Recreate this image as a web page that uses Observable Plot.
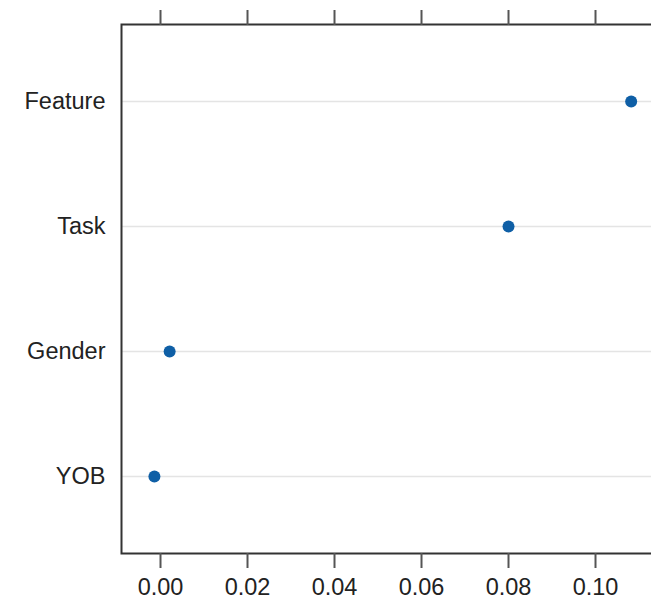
<!DOCTYPE html>
<html>
<head>
<meta charset="utf-8">
<script src="https://cdn.jsdelivr.net/npm/d3@7"></script>
<script src="https://cdn.jsdelivr.net/npm/@observablehq/plot@0.6"></script>
<style>
  html, body { margin: 0; padding: 0; background: white; overflow: hidden; }
</style>
</head>
<body>
<div id="chart"></div>
<script>
// Variable importance by feature
const features = ["Feature", "Task", "Gender", "YOB"];
const importance = [0.1082, 0.0800, 0.0021, -0.0014];

const xTicks = [0, 0.02, 0.04, 0.06, 0.08, 0.10];
const xTickLabels = ["0.00", "0.02", "0.04", "0.06", "0.08", "0.10"];

const rows = features.map((f, i) => ({feature: f, value: importance[i]}));

const chart = Plot.plot({
  width: 651,
  height: 600,
  marginLeft: 121,
  marginRight: -10,
  marginTop: 24,
  marginBottom: 47,
  style: {
    fontFamily: "'Liberation Sans', Arial, Helvetica, sans-serif",
    fontSize: "23.5px",
    color: "#222",
    overflow: "hidden",
    background: "white"
  },
  x: {domain: [-0.008966, 0.11517]},
  y: {domain: features, padding: 0.605},
  marks: [
    Plot.ruleY(features, {stroke: "#e4e4e4", strokeWidth: 1.5}),
    Plot.frame({stroke: "#333", strokeWidth: 2}),
    Plot.axisX({
      anchor: "bottom",
      ticks: xTicks,
      tickFormat: d => xTickLabels[xTicks.indexOf(d)],
      tickSize: 15,
      tickPadding: 10,
      stroke: "#555",
      strokeWidth: 2,
      label: null
    }),
    Plot.axisX({
      anchor: "top",
      ticks: xTicks,
      tickFormat: () => "",
      tickSize: 15,
      stroke: "#555",
      strokeWidth: 2,
      label: null
    }),
    Plot.axisY({tickSize: 0, tickPadding: 16, label: null}),
    Plot.dot(rows, {x: "value", y: "feature", r: 6, fill: "#0f5fa6", stroke: "none"})
  ]
});

document.getElementById("chart").append(chart);
</script>
</body>
</html>
